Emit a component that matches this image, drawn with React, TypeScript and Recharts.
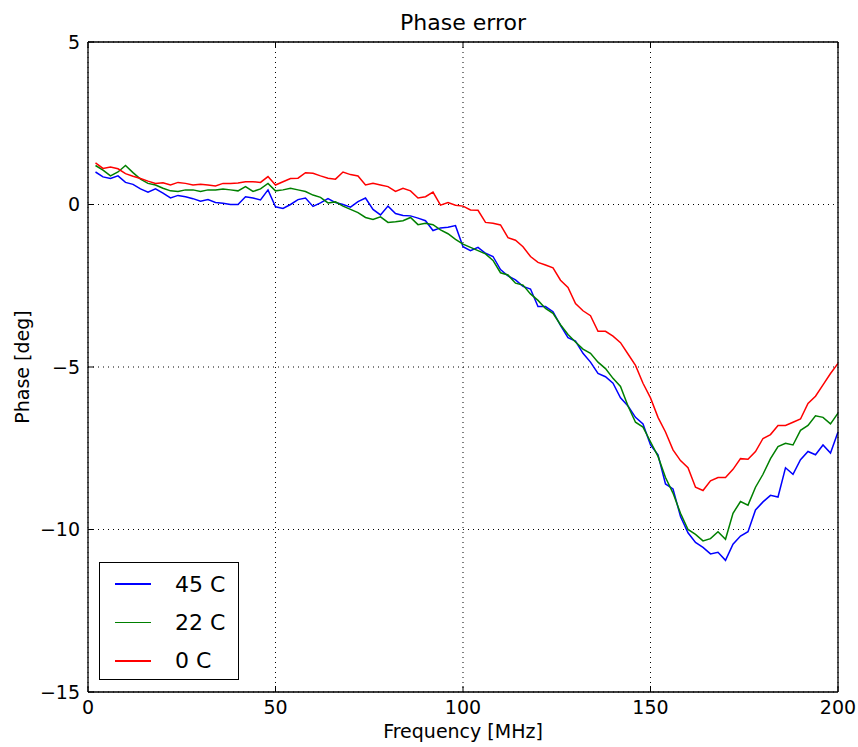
import {
  CartesianGrid,
  Label,
  Legend,
  Line,
  LineChart,
  XAxis,
  YAxis,
} from "recharts";

const freqMHz = [
  2, 4, 6, 8, 10, 12, 14, 16, 18, 20,
  22, 24, 26, 28, 30, 32, 34, 36, 38, 40,
  42, 44, 46, 48, 50, 52, 54, 56, 58, 60,
  62, 64, 66, 68, 70, 72, 74, 76, 78, 80,
  82, 84, 86, 88, 90, 92, 94, 96, 98, 100,
  102, 104, 106, 108, 110, 112, 114, 116, 118, 120,
  122, 124, 126, 128, 130, 132, 134, 136, 138, 140,
  142, 144, 146, 148, 150, 152, 154, 156, 158, 160,
  162, 164, 166, 168, 170, 172, 174, 176, 178, 180,
  182, 184, 186, 188, 190, 192, 194, 196, 198, 200,
];

const phase45C = [
  1.0, 0.85, 0.8, 0.88, 0.68, 0.62, 0.48, 0.38, 0.48, 0.35,
  0.2, 0.28, 0.24, 0.18, 0.1, 0.15, 0.06, 0.04, 0.0, 0.0,
  0.24, 0.2, 0.14, 0.45, -0.07, -0.12, 0.0, 0.15, 0.2, -0.06,
  0.05, 0.18, 0.06, 0.0, -0.08, 0.09, 0.2, -0.15, -0.32, -0.05,
  -0.28, -0.34, -0.35, -0.42, -0.5, -0.8, -0.72, -0.7, -0.65, -1.3,
  -1.42, -1.32, -1.5, -1.6, -2.0, -2.2, -2.32, -2.52, -2.6, -3.14,
  -3.14, -3.3, -3.72, -4.1, -4.2, -4.58, -4.85, -5.2, -5.3, -5.5,
  -5.95, -6.2, -6.55, -6.75, -7.4, -7.7, -8.6, -8.75, -9.6, -10.1,
  -10.4, -10.55, -10.75, -10.7, -10.95, -10.45, -10.2, -10.07, -9.4, -9.15,
  -8.95, -9.0, -8.1, -8.3, -7.85, -7.6, -7.7, -7.4, -7.65, -7.0,
];

const phase22C = [
  1.2, 1.06, 0.88, 1.0, 1.2, 0.98, 0.78, 0.65, 0.6, 0.5,
  0.42, 0.4, 0.45, 0.45, 0.4, 0.45, 0.45, 0.48, 0.45, 0.42,
  0.55, 0.4, 0.48, 0.65, 0.42, 0.45, 0.5, 0.45, 0.4, 0.29,
  0.22, 0.05, 0.08, -0.05, -0.15, -0.25, -0.4, -0.46, -0.38, -0.55,
  -0.53, -0.5, -0.4, -0.62, -0.58, -0.62, -0.78, -0.9, -1.07, -1.22,
  -1.32, -1.42, -1.52, -1.72, -2.1, -2.17, -2.42, -2.48, -2.75, -2.95,
  -3.2, -3.35, -3.7, -4.0, -4.23, -4.45, -4.58, -4.85, -5.05, -5.35,
  -5.6, -6.2, -6.7, -6.85, -7.3, -7.75, -8.4, -8.88, -9.5, -10.0,
  -10.15, -10.35, -10.28, -10.07, -10.3, -9.5, -9.14, -9.25, -8.7, -8.3,
  -7.82, -7.45, -7.35, -7.4, -6.95, -6.8, -6.5, -6.55, -6.75, -6.42,
];

const phase0C = [
  1.28, 1.11, 1.15, 1.1, 0.95, 0.87, 0.8, 0.72, 0.65, 0.67,
  0.6, 0.68, 0.65, 0.6, 0.62, 0.6, 0.57, 0.65, 0.65, 0.66,
  0.7, 0.7, 0.68, 0.86, 0.6, 0.7, 0.8, 0.81, 0.98, 0.96,
  0.88, 0.81, 0.78, 1.0, 0.92, 0.88, 0.6, 0.65, 0.6, 0.55,
  0.4, 0.5, 0.42, 0.2, 0.24, 0.38, -0.02, 0.06, -0.02, -0.05,
  -0.17, -0.18, -0.55, -0.58, -0.63, -1.02, -1.1, -1.3, -1.6, -1.78,
  -1.86, -1.95, -2.33, -2.55, -3.05, -3.27, -3.42, -3.9, -3.9, -4.05,
  -4.25, -4.6, -4.95, -5.5, -5.95, -6.55, -7.0, -7.55, -7.88, -8.1,
  -8.7, -8.8, -8.5, -8.4, -8.4, -8.15, -7.82, -7.84, -7.6, -7.2,
  -7.08, -6.8, -6.8, -6.7, -6.6, -6.12, -5.9, -5.55, -5.2, -4.89,
];

const seriesNames = ["45 C", "22 C", "0 C"];
const xTicks = [0, 50, 100, 150, 200];
const yTicks = [5, 0, -5, -10, -15];

const FONT = "'DejaVu Sans', sans-serif";

const data = freqMHz.map((f, i) => ({
  freq: f,
  t45: phase45C[i],
  t22: phase22C[i],
  t0: phase0C[i],
}));

// matplotlib uses a real minus sign
const fmt = (v: number) => (v < 0 ? `\u2212${Math.abs(v)}` : `${v}`);
const noTick = () => <g />;

const tickStyle = { fill: "#000", fontSize: 19, fontFamily: FONT };

const LegendBox = ({ payload }: any) => {
  // keep plotting order, recharts sorts by name otherwise
  const items = [...(payload ?? [])].sort(
    (a: any, b: any) => seriesNames.indexOf(a.value) - seriesNames.indexOf(b.value)
  );
  return (
    <div
      style={{
        width: 140,
        height: 118,
        boxSizing: "border-box",
        border: "1.5px solid #000",
        background: "#fff",
        paddingTop: 2,
        fontFamily: FONT,
      }}
    >
      {items.map((item: any) => (
        <div
          key={item.value}
          style={{ display: "flex", alignItems: "center", height: 38.3 }}
        >
          <span
            style={{
              marginLeft: 15,
              width: 36,
              height: 1.6,
              background: item.color,
            }}
          />
          <span style={{ marginLeft: 24, fontSize: 22, color: "#000" }}>
            {item.value}
          </span>
        </div>
      ))}
    </div>
  );
};

export default function App() {
  return (
    <>
      {/* same 8px offset, but let the page box reach the right edge so the "200" label is not cut */}
      <style>{"body{margin:0;padding:8px 0 0 8px}"}</style>
      <LineChart
        width={850}
        height={739}
        data={data}
        margin={{ top: 32, right: 18, bottom: 25, left: 20 }}
        style={{ fontFamily: FONT }}
      >
        <CartesianGrid
          stroke="#000"
          strokeDasharray="1 4"
          strokeWidth={1}
          horizontalValues={yTicks}
          verticalValues={xTicks}
        />
        <XAxis
          dataKey="freq"
          type="number"
          domain={[0, 200]}
          ticks={xTicks}
          height={30}
          tickSize={-6}
          tickMargin={15}
          tick={tickStyle}
          tickLine={{ stroke: "#000" }}
          axisLine={{ stroke: "#000", strokeWidth: 1.3 }}
        >
          <Label
            value="Frequency [MHz]"
            position="bottom"
            offset={3}
            style={{ fill: "#000", fontSize: 19, fontFamily: FONT }}
          />
        </XAxis>
        <XAxis
          xAxisId="top"
          orientation="top"
          dataKey="freq"
          type="number"
          domain={[0, 200]}
          ticks={xTicks}
          height={2}
          tickSize={-6}
          tick={noTick}
          tickLine={{ stroke: "#000" }}
          axisLine={{ stroke: "#000", strokeWidth: 1.3 }}
        >
          <Label
            value="Phase error"
            position="top"
            offset={10}
            style={{ fill: "#000", fontSize: 22, fontFamily: FONT }}
          />
        </XAxis>
        <YAxis
          type="number"
          domain={[-15, 5]}
          ticks={yTicks}
          width={60}
          tickSize={-6}
          tickMargin={14}
          tick={tickStyle}
          tickFormatter={fmt}
          tickLine={{ stroke: "#000" }}
          axisLine={{ stroke: "#000", strokeWidth: 1.3 }}
        >
          <Label
            value="Phase [deg]"
            angle={-90}
            position="insideLeft"
            offset={-6}
            style={{
              fill: "#000",
              fontSize: 19,
              fontFamily: FONT,
              textAnchor: "middle",
            }}
          />
        </YAxis>
        <YAxis
          yAxisId="right"
          orientation="right"
          type="number"
          domain={[-15, 5]}
          ticks={yTicks}
          width={2}
          tickSize={-6}
          tick={noTick}
          tickLine={{ stroke: "#000" }}
          axisLine={{ stroke: "#000", strokeWidth: 1.3 }}
        />
        <Legend
          layout="vertical"
          align="center"
          verticalAlign="middle"
          wrapperStyle={{ left: 91, top: 554, width: 140, height: 118 }}
          content={LegendBox}
        />
        <Line
          name={seriesNames[0]}
          dataKey="t45"
          stroke="#0000ff"
          strokeWidth={1.5}
          dot={false}
          isAnimationActive={false}
        />
        <Line
          name={seriesNames[1]}
          dataKey="t22"
          stroke="#008000"
          strokeWidth={1.5}
          dot={false}
          isAnimationActive={false}
        />
        <Line
          name={seriesNames[2]}
          dataKey="t0"
          stroke="#ff0000"
          strokeWidth={1.5}
          dot={false}
          isAnimationActive={false}
        />
      </LineChart>
    </>
  );
}
